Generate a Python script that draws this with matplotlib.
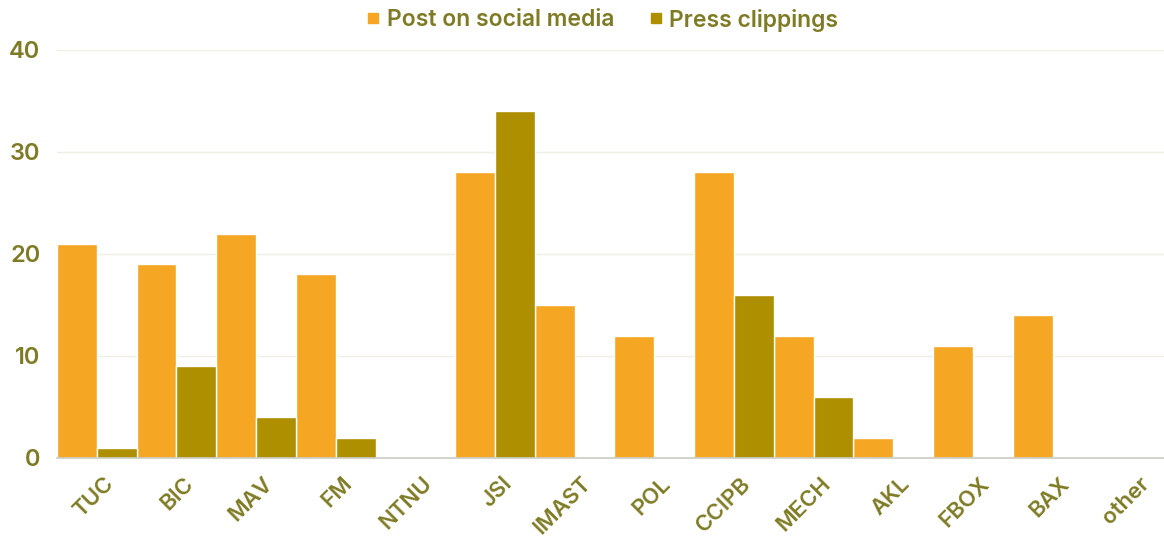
import numpy as np
import matplotlib.pyplot as plt
from matplotlib.lines import Line2D

categories = ['TUC', 'BIC', 'MAV', 'FM', 'NTNU', 'JSI', 'IMAST', 'POL',
              'CCIPB', 'MECH', 'AKL', 'FBOX', 'BAX', 'other']
social = [21, 19, 22, 18, 0, 28, 15, 12, 28, 12, 2, 11, 14, 0]
press = [1, 9, 4, 2, 0, 34, 0, 0, 16, 6, 0, 0, 0, 0]

c_social = '#F5A623'
c_press = '#AE8F00'
c_text = '#7E7B24'

plt.rcParams['font.family'] = ['Inter', 'DejaVu Sans']

fig = plt.figure(figsize=(11.64, 5.39), dpi=100)
ax = fig.add_axes([57/1164, 1-458/539, 1-57/1164, (458-50)/539])

x = np.arange(len(categories))
ax.bar(x, social, width=0.5, align='edge', color=c_social, edgecolor='white', linewidth=1.0, zorder=3)
ax.bar(x+0.5, press, width=0.5, align='edge', color=c_press, edgecolor='white', linewidth=1.0, zorder=3)

ax.set_xlim(0, 13.9)
ax.set_ylim(0, 40)
ax.set_yticks([0, 10, 20, 30, 40])
ax.yaxis.grid(True, color='#EFEFE4', linewidth=1, zorder=0)
ax.set_axisbelow(True)
for s in ['top', 'right', 'left']:
    ax.spines[s].set_visible(False)
ax.spines['bottom'].set_color('#CCCCC4')
ax.spines['bottom'].set_linewidth(1.2)
ax.spines['bottom'].set_zorder(4)

ax.set_xticks(x+0.5+0.08)
ax.set_xticklabels(categories, rotation=45, ha='right', rotation_mode='anchor',
                   fontsize=16, fontweight='semibold', color=c_text)
ax.tick_params(axis='x', length=0, pad=11)
ax.tick_params(axis='y', length=0, pad=12, labelsize=17, labelcolor=c_text)
for t in ax.get_yticklabels():
    t.set_fontweight('semibold')

handles = [Line2D([], [], marker='s', linestyle='none', markersize=7, color=c_social),
           Line2D([], [], marker='s', linestyle='none', markersize=7, color=c_press)]
leg = fig.legend(handles, ['Post on social media', 'Press clippings'], loc='center',
                 bbox_to_anchor=(600/1164, 1-20/539), ncol=2, frameon=False,
                 handletextpad=0.1, columnspacing=1.3, handlelength=1.0,
                 prop={'size': 16.5, 'weight': 'semibold'})
for t in leg.get_texts():
    t.set_color(c_text)

fig.savefig('out.png', dpi=100)
